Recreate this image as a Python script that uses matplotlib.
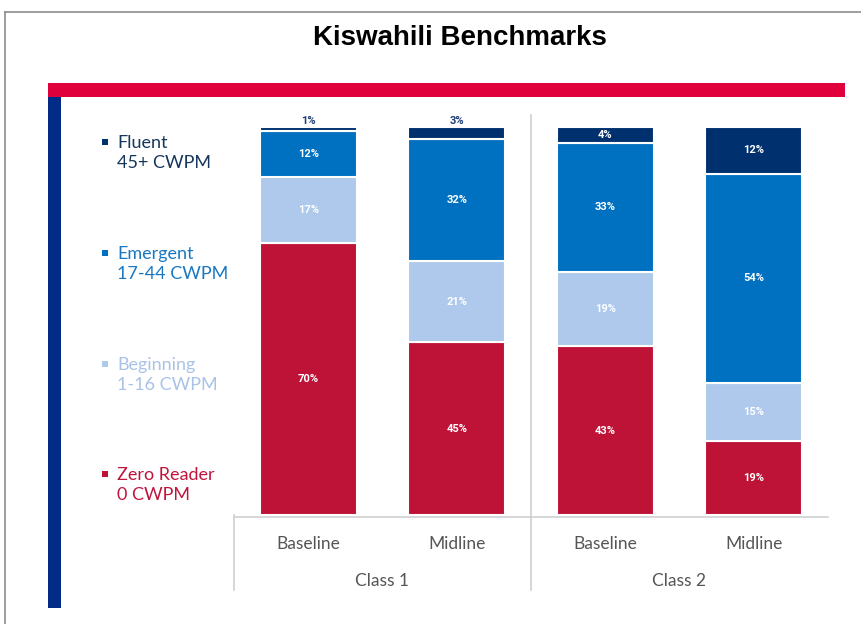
import matplotlib
matplotlib.use("Agg")
import matplotlib.pyplot as plt
import numpy as np
from matplotlib.lines import Line2D
from matplotlib.patches import Rectangle

W, H = 862, 624

title = "Kiswahili Benchmarks"
classes = ["Class 1", "Class 2"]
rounds = ["Baseline", "Midline", "Baseline", "Midline"]
levels = ["Zero Reader\n0 CWPM", "Beginning\n1-16 CWPM", "Emergent\n17-44 CWPM", "Fluent\n45+ CWPM"]
zero_reader = [70, 45, 43, 19]
beginning = [17, 21, 19, 15]
emergent = [12, 32, 33, 54]
fluent = [1, 3, 4, 12]

colors = ["#BE1236", "#AEC9EB", "#0070C0", "#00316E"]
text_colors = ["#C0143C", "#A9C3E6", "#1A78C2", "#17365D"]

def fx(px):
    return px / W

def fy(py):
    return 1 - py / H

fig = plt.figure(figsize=(W / 100, H / 100), dpi=100)
fig.patch.set_facecolor("white")

# frame
fig.add_artist(Line2D([fx(5), fx(862)], [fy(12), fy(12)], color="#8C8C8C", lw=1.2))
fig.add_artist(Line2D([fx(5), fx(5)], [fy(12), fy(624)], color="#8C8C8C", lw=1.2))
# red band and navy bar
fig.add_artist(Rectangle((fx(48), fy(97)), fx(845) - fx(48), fy(83) - fy(97),
                         transform=fig.transFigure, color="#E0003C", lw=0))
fig.add_artist(Rectangle((fx(48), fy(608)), fx(61) - fx(48), fy(97) - fy(608),
                         transform=fig.transFigure, color="#002B87", lw=0))

fig.text(fx(460), fy(38), title, ha="center", va="center", fontsize=20,
         fontweight="bold", family="Liberation Sans", color="black")

ax = fig.add_axes([fx(234), fy(515), fx(828) - fx(234), fy(127) - fy(515)])
series = [zero_reader, beginning, emergent, fluent]
data = np.array(series, dtype=float)
totals = data.sum(axis=0)
norm = data / totals * 100
x = np.arange(len(rounds))
bottom = np.zeros(len(rounds))
for i, (vals, c) in enumerate(zip(norm, colors)):
    ax.bar(x, vals, bottom=bottom, width=0.65, color=c, edgecolor="white", linewidth=1.5, zorder=2)
    for j in range(len(rounds)):
        raw = series[i][j]
        if vals[j] < 3.5:
            ax.text(x[j], bottom[j] + vals[j] + 0.3, f"{raw}%", ha="center", va="bottom",
                    fontsize=8, fontweight="bold", color="#1F3F7A", family="Roboto")
        else:
            ax.text(x[j], bottom[j] + vals[j] / 2, f"{raw}%", ha="center", va="center",
                    fontsize=8, fontweight="bold", color="white", family="Roboto")
    bottom += vals

ax.set_xlim(-0.5, len(rounds) - 0.5)
ax.set_ylim(0, 100)
ax.set_xticks([])
ax.set_yticks([])
for s in ax.spines.values():
    s.set_visible(False)
ax.patch.set_alpha(0)

lc = "#D0D0D0"
ax.plot([-0.5, 3.5], [-0.5, -0.5], color=lc, lw=1.2, clip_on=False, transform=ax.transData)
axT = ax.get_xaxis_transform()
ax.plot([1.5, 1.5], [1.031, -0.193], color=lc, lw=1.2, clip_on=False, transform=axT)
ax.plot([-0.5, -0.5], [0, -0.193], color=lc, lw=1.2, clip_on=False, transform=axT)

for j, r in enumerate(rounds):
    ax.text(x[j], -0.075, r, transform=axT, ha="center", va="center",
            fontsize=12.5, color="#555555", family="Lato")
for k, cname in enumerate(classes):
    ax.text(0.5 + 2 * k, -0.17, cname, transform=axT, ha="center", va="center",
            fontsize=12.5, color="#555555", family="Lato")

# legend
leg_y = [474, 364, 253, 142]
for i, lab in enumerate(levels):
    y = leg_y[i]
    fig.add_artist(Rectangle((fx(102), fy(y + 3)), fx(6), 6 / H,
                             transform=fig.transFigure, color=colors[i], lw=0))
    fig.text(fx(117), fy(y - 7), lab, ha="left", va="top", fontsize=13,
             color=text_colors[i], family="Lato", linespacing=1.33)

fig.savefig("out.png", dpi=100)
